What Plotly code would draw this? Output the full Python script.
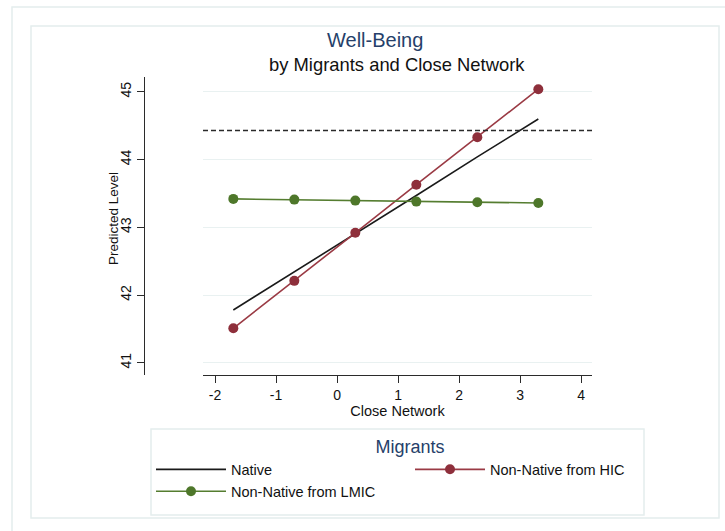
import plotly.graph_objects as go

# Close-network values at which predictions are evaluated
close_network = [-1.7, -0.7, 0.3, 1.3, 2.3, 3.3]

# Predicted well-being level per migrant group
native = [41.78, 42.34, 42.91, 43.47, 44.04, 44.60]
non_native_hic = [41.51, 42.21, 42.92, 43.63, 44.33, 45.04]
non_native_lmic = [43.42, 43.41, 43.395, 43.38, 43.37, 43.36]

# Reference level drawn as a dashed horizontal line
reference_level = 44.43

x_ticks = [-2, -1, 0, 1, 2, 3, 4]
x_tick_labels = ["-2", "-1", "0", "1", "2", "3", "4"]
y_ticks = [41, 42, 43, 44, 45]
y_tick_labels = ["41", "42", "43", "44", "45"]

W, H = 725, 531
NAVY = "#263f6a"
FRAME = "#e4eded"
GRID = "#e9f1f1"
AXIS = "#2b2b2b"
FONT = "Liberation Sans, Arial, sans-serif"


def px(x):
    return x / W


def py(y):
    return 1 - y / H


fig = go.Figure()

fig.add_trace(go.Scatter(
    x=close_network, y=native, mode="lines", name="Native",
    line=dict(color="#1a1a1a", width=1.6),
))
fig.add_trace(go.Scatter(
    x=close_network, y=non_native_hic, mode="lines+markers",
    name="Non-Native from HIC",
    line=dict(color="#9a3a44", width=1.6),
    marker=dict(color="#8e2f3b", size=10),
))
fig.add_trace(go.Scatter(
    x=close_network, y=non_native_lmic, mode="lines+markers",
    name="Non-Native from LMIC",
    line=dict(color="#557d30", width=1.6),
    marker=dict(color="#4e772a", size=10),
))

shapes = [
    # outer and inner frames
    dict(type="rect", xref="paper", yref="paper",
         x0=px(12), y0=py(7), x1=px(760), y1=py(560),
         line=dict(color=FRAME, width=1.5), layer="below"),
    dict(type="rect", xref="paper", yref="paper",
         x0=px(31), y0=py(26), x1=px(719), y1=py(518),
         line=dict(color=FRAME, width=1.5), layer="below"),
    # legend box
    dict(type="rect", xref="paper", yref="paper",
         x0=px(151), y0=py(429), x1=px(644), y1=py(515),
         line=dict(color=FRAME, width=1.5), layer="below"),
    # dashed reference level
    dict(type="line", xref="x domain", yref="y",
         x0=0, x1=1, y0=reference_level, y1=reference_level,
         line=dict(color="#2a2a2a", width=1.5, dash="5px,3px"),
         layer="above"),
]

annotations = [
    dict(text="Well-Being", xref="paper", yref="paper",
         x=px(375), y=py(40), xanchor="center", yanchor="middle",
         showarrow=False, font=dict(family=FONT, size=20, color=NAVY)),
    dict(text="by Migrants and Close Network", xref="paper", yref="paper",
         x=px(397), y=py(64), xanchor="center", yanchor="middle",
         showarrow=False, font=dict(family=FONT, size=18.4, color="#111111")),
    dict(text="Predicted Level", xref="paper", yref="paper",
         x=px(113), y=py(219), xanchor="center", yanchor="middle",
         textangle=-90, showarrow=False,
         font=dict(family=FONT, size=13.5, color="#111111")),
]

fig.update_layout(
    width=W, height=H,
    margin=dict(l=0, r=0, t=0, b=0),
    paper_bgcolor="white", plot_bgcolor="white",
    font=dict(family=FONT, color="#111111"),
    shapes=shapes,
    annotations=annotations,
    xaxis=dict(
        domain=[px(203), px(592)],
        anchor="y",
        range=[-2.197, 4.18],
        tickvals=x_ticks, ticktext=x_tick_labels,
        ticks="outside", ticklen=7, tickwidth=1.2, tickcolor=AXIS,
        showline=True, linecolor=AXIS, linewidth=1.3,
        showgrid=False, zeroline=False,
        tickfont=dict(size=14, color="#111111"),
        title=dict(text="Close Network", standoff=1,
                   font=dict(size=14.5, color="#111111")),
        automargin=False,
    ),
    yaxis=dict(
        domain=[py(375), py(77)],
        anchor="free", position=px(144),
        range=[40.82, 45.22],
        tickvals=y_ticks, ticktext=y_tick_labels,
        tickangle=-90,
        ticks="outside", ticklen=7, tickwidth=1.2, tickcolor=AXIS,
        showline=True, linecolor=AXIS, linewidth=1.3,
        showgrid=True, gridcolor=GRID, gridwidth=1.2,
        zeroline=False,
        tickfont=dict(size=14, color="#111111"),
        automargin=False,
    ),
    showlegend=True,
    legend=dict(
        orientation="h",
        xref="paper", yref="paper",
        x=px(151), y=py(430), xanchor="left", yanchor="top",
        bgcolor="rgba(0,0,0,0)", borderwidth=0,
        itemwidth=70,
        entrywidth=174, entrywidthmode="pixels",
        traceorder="normal",
        font=dict(size=14.5, color="#111111"),
        title=dict(text="Migrants", side="top center",
                   font=dict(size=18, color=NAVY)),
    ),
)

fig.write_html("out.html")
